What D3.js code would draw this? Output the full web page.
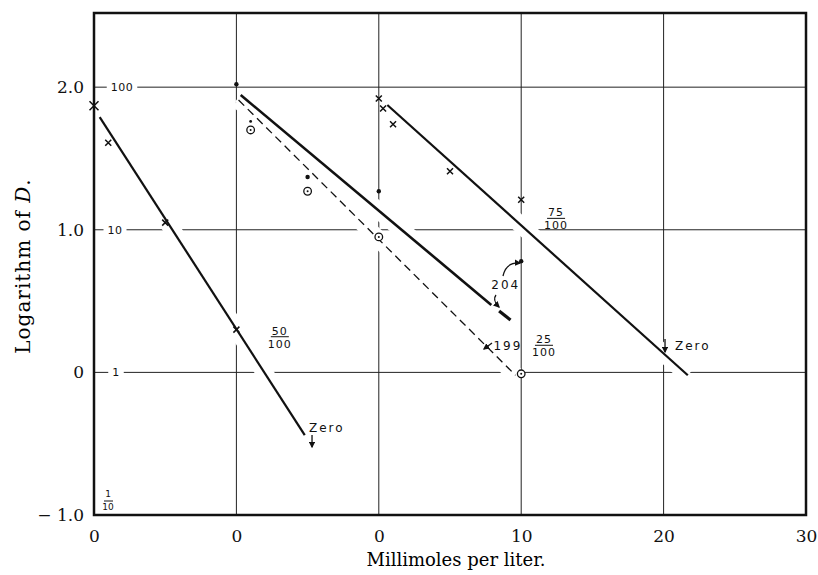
<!DOCTYPE html>
<html>
<head>
<meta charset="utf-8">
<script src="https://cdn.jsdelivr.net/npm/d3@7"></script>
<style>
body { margin: 0; background: #fff; }
svg { display: block; }
.axis text { font-family: "DejaVu Serif", serif; font-size: 17px; fill: #111; }
.grid line { stroke: #222; stroke-width: 1; }
.lbl { font-family: "DejaVu Sans", sans-serif; font-size: 11px; letter-spacing: 1.5px; fill: #111; }
</style>
</head>
<body>
<script>
const width = 818,
      height = 575,
      margin = {top: 13, right: 12, bottom: 60, left: 94};

// axis ticks; the three series are slid along x so each starts at its own "0"
const xTicks = [-20, -10, 0, 10, 20, 30];
const xTickLabels = ["0", "0", "0", "10", "20", "30"];
const yTicks = [-1, 0, 1, 2];
const yTickLabels = ["\u2212 1.0", "0", "1.0", "2.0"];
const gridLabels = ["1/10", "1", "10", "100"];   // D itself on the log lines

const offsetFifty = -20,
      offsetTwentyFive = -10,
      offsetSeventyFive = 0;

// 50/100
const fiftyCrossX = [0, 1, 5, 10];
const fiftyCrossY = [1.87, 1.61, 1.05, 0.30];
const fiftyLineX = [0.4, 14.8];
const fiftyLineY = [1.79, -0.44];

// 25/100  (dots, rings, solid line 204, dashed line 199)
const twentyFiveDotX = [0, 1, 5, 10, 20];
const twentyFiveDotY = [2.02, 1.76, 1.37, 1.27, 0.78];
const twentyFiveRingX = [1, 5, 10, 20];
const twentyFiveRingY = [1.70, 1.27, 0.95, -0.01];
const line204X = [[0.3, 17.9], [18.45, 19.25]];
const line204Y = [[1.945, 0.473], [0.43, 0.367]];
const line199X = [0.15, 19.6];
const line199Y = [1.91, -0.02];

// 75/100
const seventyFiveCrossX = [0, 0.3, 1, 5, 10];
const seventyFiveCrossY = [1.92, 1.85, 1.74, 1.41, 1.21];
const seventyFiveLineX = [0.6, 21.7];
const seventyFiveLineY = [1.875, -0.02];

// notes written on the chart, in axis units
const fractions = [
    {top: "50", bottom: "100", x: -6.95, y: 0.25},
    {top: "25", bottom: "100", x: 11.6, y: 0.19},
    {top: "75", bottom: "100", x: 12.45, y: 1.08}
];
const notes = [
    {text: "Zero", x: -4.9, y: -0.39},
    {text: "Zero", x: 20.8, y: 0.185},
    {text: "204", x: 7.9, y: 0.61},
    {text: "199", x: 8.05, y: 0.185}
];

let svg = d3.select("body")
    .append("svg")
    .attr("width", width)
    .attr("height", height);

let x = d3.scaleLinear().domain([-20, 30]).range([margin.left, width - margin.right]);
let y = d3.scaleLinear().domain([-1, 2.52]).range([height - margin.bottom, margin.top]);

function pts(xs, ys, off) {
    return xs.map(function (v, i) { return [x(v + off), y(ys[i])]; });
}

let line = d3.line();

// grid
let grid = svg.append("g").attr("class", "grid");
grid.selectAll(".v")
    .data(xTicks.slice(1, -1))
    .enter().append("line")
    .attr("x1", function (d) { return x(d); })
    .attr("x2", function (d) { return x(d); })
    .attr("y1", y(2.52))
    .attr("y2", y(-1));
grid.selectAll(".h")
    .data(yTicks.slice(1))
    .enter().append("line")
    .attr("x1", x(-20))
    .attr("x2", x(30))
    .attr("y1", function (d) { return y(d); })
    .attr("y2", function (d) { return y(d); });

// fitted lines, with a white halo that breaks the grid where they cross
let fitted = [
    {p: pts(fiftyLineX, fiftyLineY, offsetFifty), w: 2.2, dash: null},
    {p: pts(line204X[0], line204Y[0], offsetTwentyFive), w: 2.6, dash: null},
    {p: pts(line204X[1], line204Y[1], offsetTwentyFive), w: 3.2, dash: null},
    {p: pts(line199X, line199Y, offsetTwentyFive), w: 1.3, dash: "8,5"},
    {p: pts(seventyFiveLineX, seventyFiveLineY, offsetSeventyFive), w: 2.2, dash: null}
];

svg.append("g").selectAll("path")
    .data(fitted)
    .enter().append("path")
    .attr("d", function (d) { return line(d.p); })
    .attr("stroke", "#fff")
    .attr("stroke-width", 17)
    .attr("fill", "none");

svg.append("g").selectAll("path")
    .data(fitted)
    .enter().append("path")
    .attr("d", function (d) { return line(d.p); })
    .attr("stroke", "#111")
    .attr("stroke-width", function (d) { return d.w; })
    .attr("stroke-dasharray", function (d) { return d.dash; })
    .attr("fill", "none");

// D labels sitting in the grid lines
let gl = svg.append("g");
[[0, 1, 116], [1, 2, 115], [2, 3, 122]].forEach(function (r) {
    let g = gl.append("g");
    let t = g.append("text")
        .attr("class", "lbl")
        .attr("x", r[2])
        .attr("y", y(yTicks[r[1]]) + 4)
        .attr("text-anchor", "middle")
        .style("letter-spacing", "0.5px")
        .text(gridLabels[r[1]]);
    let b = t.node().getBBox();
    g.insert("rect", "text")
        .attr("x", b.x - 4)
        .attr("y", y(yTicks[r[1]]) - 3)
        .attr("width", b.width + 8)
        .attr("height", 6)
        .attr("fill", "#fff");
});
// 1/10 above the bottom frame
gl.append("text").attr("class", "lbl").attr("x", x(-20) + 14).attr("y", y(-1) - 18)
    .attr("text-anchor", "middle").style("font-size", "9px").style("letter-spacing", "0").text(gridLabels[0].split("/")[0]);
gl.append("line").attr("x1", x(-20) + 10).attr("x2", x(-20) + 19)
    .attr("y1", y(-1) - 14).attr("y2", y(-1) - 14).attr("stroke", "#111").attr("stroke-width", 1);
gl.append("text").attr("class", "lbl").attr("x", x(-20) + 14).attr("y", y(-1) - 5)
    .attr("text-anchor", "middle").style("font-size", "9px").style("letter-spacing", "0").text(gridLabels[0].split("/")[1]);

// markers
let crossPath = "M-3,-3L3,3M-3,3L3,-3";
let crosses = pts(fiftyCrossX, fiftyCrossY, offsetFifty)
    .concat(pts(seventyFiveCrossX, seventyFiveCrossY, offsetSeventyFive));
svg.append("g").selectAll("path")
    .data(crosses)
    .enter().append("path")
    .attr("d", function (d, i) { return i === 0 ? "M-4.5,-4.5L4.5,4.5M-4.5,4.5L4.5,-4.5" : crossPath; })
    .attr("transform", function (d) { return "translate(" + d[0] + "," + d[1] + ")"; })
    .attr("stroke", "#111")
    .attr("stroke-width", 1.5);

svg.append("g").selectAll("circle")
    .data(pts(twentyFiveDotX, twentyFiveDotY, offsetTwentyFive))
    .enter().append("circle")
    .attr("cx", function (d) { return d[0]; })
    .attr("cy", function (d) { return d[1]; })
    .attr("r", function (d, i) { return i === 1 ? 1.4 : 2.2; })
    .attr("fill", "#111");

let rings = svg.append("g").selectAll("g")
    .data(pts(twentyFiveRingX, twentyFiveRingY, offsetTwentyFive))
    .enter().append("g")
    .attr("transform", function (d) { return "translate(" + d[0] + "," + d[1] + ")"; });
rings.append("circle").attr("r", 3.8).attr("fill", "#fff").attr("stroke", "#111").attr("stroke-width", 1.3);
rings.append("circle").attr("r", 1).attr("fill", "#111");

// frame
svg.append("rect")
    .attr("x", x(-20))
    .attr("y", y(2.52))
    .attr("width", x(30) - x(-20))
    .attr("height", y(-1) - y(2.52))
    .attr("fill", "none")
    .attr("stroke", "#111")
    .attr("stroke-width", 2.5);

// axes
let xAxis = d3.axisBottom(x).tickValues(xTicks)
    .tickFormat(function (d, i) { return xTickLabels[i]; })
    .tickSize(0).tickPadding(15);
let yAxis = d3.axisLeft(y).tickValues(yTicks)
    .tickFormat(function (d, i) { return yTickLabels[i]; })
    .tickSize(0).tickPadding(10);

svg.append("g")
    .attr("class", "x axis")
    .attr("transform", "translate(0," + y(-1) + ")")
    .call(xAxis)
    .call(function (g) { g.select(".domain").remove(); });

svg.append("g")
    .attr("class", "y axis")
    .attr("transform", "translate(" + x(-20) + ",0)")
    .call(yAxis)
    .call(function (g) { g.select(".domain").remove(); });

svg.append("text")
    .attr("x", 456)
    .attr("y", 566)
    .attr("text-anchor", "middle")
    .style("font-family", "DejaVu Serif, serif")
    .style("font-size", "18px")
    .text("Millimoles per liter.");

let yt = svg.append("text")
    .attr("text-anchor", "middle")
    .attr("transform", "translate(30," + 266 + ")rotate(-90)")
    .style("font-family", "DejaVu Serif, serif")
    .style("font-size", "20px")
    .style("letter-spacing", "1px");
yt.append("tspan").text("Logarithm of ");
yt.append("tspan").style("font-style", "italic").text("D");
yt.append("tspan").text(".");

// fractions
fractions.forEach(function (f) {
    let cx = x(f.x), cy = y(f.y);
    svg.append("text").attr("class", "lbl").attr("x", cx).attr("y", cy - 2)
        .attr("text-anchor", "middle").style("letter-spacing", "1px").text(f.top);
    svg.append("line").attr("x1", cx - 9).attr("x2", cx + 9).attr("y1", cy).attr("y2", cy)
        .attr("stroke", "#111").attr("stroke-width", 1);
    svg.append("text").attr("class", "lbl").attr("x", cx).attr("y", cy + 11)
        .attr("text-anchor", "middle").style("letter-spacing", "1px").text(f.bottom);
});

// notes
svg.selectAll(".note")
    .data(notes)
    .enter().append("text")
    .attr("class", "lbl note")
    .attr("x", function (d) { return x(d.x); })
    .attr("y", function (d) { return y(d.y) + 4; })
    .style("font-size", "12px")
    .style("letter-spacing", "2px")
    .text(function (d) { return d.text; });

// little arrows beside the notes
svg.append("defs").append("marker")
    .attr("id", "head")
    .attr("viewBox", "0 0 10 10")
    .attr("refX", 8).attr("refY", 5)
    .attr("markerWidth", 5).attr("markerHeight", 5)
    .attr("orient", "auto")
    .append("path").attr("d", "M0,0L10,5L0,10z").attr("fill", "#111");

let arrows = [
    "M" + (x(-4.9) + 3) + "," + (y(-0.39) + 7) + "l0,12",
    "M" + x(20.1) + "," + (y(0.185) - 7) + "l0,13",
    "M503,276 Q506,262 520,263",
    "M496,295 Q492,300 499,307",
    "M492,343 L484,349"
];
svg.append("g").selectAll("path")
    .data(arrows)
    .enter().append("path")
    .attr("d", function (d) { return d; })
    .attr("fill", "none")
    .attr("stroke", "#111")
    .attr("stroke-width", 1.3)
    .attr("marker-end", "url(#head)");
</script>
</body>
</html>
